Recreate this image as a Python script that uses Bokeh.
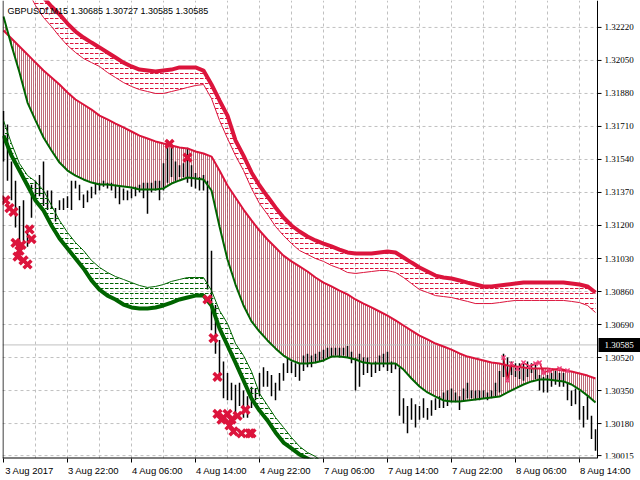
from bokeh.plotting import figure
from bokeh.models import Range1d, FixedTicker, Span, Label
from bokeh.embed import file_html
from bokeh.resources import INLINE

# ---------------- data (GBPUSDf, M15; x = bar number) ----------------
title_text = "GBPUSDf,M15  1.30685 1.30727 1.30585 1.30585"
current_price = 1.30585

time_labels = ["3 Aug 2017", "3 Aug 22:00", "4 Aug 06:00", "4 Aug 14:00", "4 Aug 22:00",
               "7 Aug 06:00", "7 Aug 14:00", "7 Aug 22:00", "8 Aug 06:00", "8 Aug 14:00"]
bars_per_label = 32
bars_per_grid = 16
price_ticks = [1.30015, 1.30180, 1.30350, 1.30520, 1.30690, 1.30860, 1.31030, 1.31200,
               1.31370, 1.31540, 1.31710, 1.31880, 1.32050, 1.32220]

# price bars, every second bar
high = [1.3179,1.3172,1.3153,1.3143,1.3130,1.3133,1.3120,1.3141,1.3143,1.3146,
        1.3153,1.3138,1.3138,1.3129,1.3133,1.3134,1.3135,1.3143,1.3143,1.3141,
        1.3136,1.3138,1.3140,1.3142,1.3142,1.3143,1.3142,1.3142,1.3141,1.3140,
        1.3139,1.3138,1.3139,1.3140,1.3141,1.3142,1.3142,1.3142,1.3143,1.3143,
        1.3152,1.3164,1.3162,1.3153,1.3151,1.3152,1.3160,1.3151,1.3147,1.3145,
        1.3146,1.3143,1.3107,1.3079,1.3061,1.3050,1.3044,1.3039,1.3038,1.3039,
        1.3035,1.3032,1.3037,1.3036,1.3044,1.3047,1.3045,1.3043,1.3039,1.3044,
        1.3049,1.3052,1.3050,1.3049,1.3049,1.3053,1.3054,1.3053,1.3054,1.3055,
        1.3056,1.3057,1.3057,1.3057,1.3057,1.3057,1.3058,1.3055,1.3052,1.3054,
        1.3052,1.3052,1.3049,1.3050,1.3053,1.3054,1.3055,1.3050,1.3049,1.3047,
        1.3031,1.3027,1.3031,1.3028,1.3027,1.3031,1.3026,1.3030,1.3031,1.3032,
        1.3034,1.3035,1.3036,1.3034,1.3032,1.3036,1.3039,1.3035,1.3035,1.3035,
        1.3035,1.3034,1.3035,1.3039,1.3045,1.3054,1.3052,1.3050,1.3049,1.3049,
        1.3049,1.3050,1.3049,1.3049,1.3043,1.3042,1.3043,1.3044,1.3045,1.3044,
        1.3044,1.3039,1.3035,1.3036,1.3035,1.3027,1.3032,1.3022,1.3015]
low = [1.3153,1.3143,1.3133,1.3119,1.3110,1.3112,1.3109,1.3124,1.3133,1.3135,
       1.3130,1.3128,1.3129,1.3122,1.3128,1.3128,1.3129,1.3128,1.3139,1.3133,
       1.3129,1.3132,1.3134,1.3136,1.3138,1.3140,1.3139,1.3138,1.3134,1.3131,
       1.3133,1.3133,1.3134,1.3135,1.3137,1.3134,1.3126,1.3137,1.3138,1.3133,
       1.3138,1.3142,1.3145,1.3143,1.3145,1.3145,1.3142,1.3140,1.3139,1.3138,
       1.3138,1.3087,1.3066,1.3054,1.3040,1.3031,1.3030,1.3030,1.3023,1.3027,
       1.3021,1.3021,1.3026,1.3030,1.3032,1.3037,1.3037,1.3032,1.3030,1.3035,
       1.3040,1.3044,1.3044,1.3042,1.3040,1.3045,1.3047,1.3047,1.3049,1.3050,
       1.3050,1.3052,1.3052,1.3053,1.3052,1.3053,1.3052,1.3049,1.3035,1.3037,
       1.3043,1.3044,1.3042,1.3044,1.3045,1.3047,1.3045,1.3044,1.3046,1.3022,
       1.3018,1.3013,1.3020,1.3016,1.3020,1.3021,1.3020,1.3022,1.3025,1.3026,
       1.3026,1.3027,1.3029,1.3029,1.3025,1.3030,1.3031,1.3031,1.3030,1.3030,
       1.3031,1.3030,1.3031,1.3032,1.3034,1.3042,1.3042,1.3043,1.3042,1.3041,
       1.3040,1.3042,1.3044,1.3041,1.3035,1.3034,1.3034,1.3037,1.3038,1.3037,
       1.3037,1.3030,1.3027,1.3028,1.3020,1.3016,1.3020,1.3010,1.3004]

# moving averages, every fourth bar
red_ma = [1.32204,1.32163,1.32122,1.32081,1.32039,1.31998,1.31962,1.31926,1.31885,1.31849,
          1.31823,1.31797,1.31766,1.31746,1.31725,1.31705,1.31684,1.31663,1.31648,1.31633,
          1.31622,1.31612,1.31602,1.31597,1.31581,1.31571,1.31555,1.31483,1.31406,1.31344,
          1.31282,1.31226,1.31174,1.31128,1.31087,1.31045,1.31015,1.30989,1.30963,1.30932,
          1.30906,1.30886,1.30865,1.30845,1.30819,1.30798,1.30778,1.30757,1.30736,1.30711,
          1.30685,1.30659,1.30633,1.30613,1.30592,1.30577,1.30561,1.30541,1.30525,1.30515,
          1.30505,1.30494,1.30489,1.30479,1.30474,1.30469,1.30463,1.30463,1.30463,1.30458,
          1.30453,1.30448,1.30438,1.30427,1.30412]
green_ma = [1.32276,1.32127,1.31988,1.31833,1.31741,1.31653,1.31586,1.31524,1.31483,1.31457,
            1.31437,1.31421,1.31411,1.31411,1.31406,1.31401,1.31396,1.31385,1.31385,1.31385,
            1.31391,1.31416,1.31432,1.31447,1.31442,1.31437,1.31380,1.31195,1.31025,1.30896,
            1.30788,1.30706,1.30654,1.30608,1.30567,1.30530,1.30505,1.30489,1.30489,1.30494,
            1.30505,1.30525,1.30525,1.30520,1.30510,1.30494,1.30489,1.30489,1.30489,1.30489,
            1.30458,1.30412,1.30371,1.30340,1.30319,1.30299,1.30294,1.30294,1.30299,1.30304,
            1.30309,1.30314,1.30319,1.30340,1.30361,1.30381,1.30397,1.30407,1.30407,1.30402,
            1.30397,1.30381,1.30355,1.30324,1.30288]

# upper (red) band, every fourth bar
upper_top = [1.32771,1.32668,1.32590,1.32513,1.32436,1.32374,1.32328,1.32287,1.32240,1.32199,
             1.32168,1.32142,1.32117,1.32091,1.32065,1.32039,1.32019,1.32003,1.31998,1.31993,
             1.31998,1.32003,1.32014,1.32014,1.32014,1.31998,1.31926,1.31844,1.31766,1.31638,
             1.31560,1.31473,1.31406,1.31349,1.31293,1.31241,1.31200,1.31169,1.31143,1.31123,
             1.31107,1.31092,1.31076,1.31061,1.31056,1.31056,1.31056,1.31061,1.31066,1.31061,
             1.31035,1.31009,1.30984,1.30963,1.30942,1.30932,1.30927,1.30917,1.30906,1.30896,
             1.30886,1.30886,1.30891,1.30896,1.30901,1.30906,1.30906,1.30906,1.30906,1.30906,
             1.30906,1.30901,1.30896,1.30886,1.30855]
upper_low = [1.32668,1.32565,1.32487,1.32410,1.32333,1.32271,1.32225,1.32173,1.32127,1.32091,
             1.32060,1.32039,1.32019,1.31988,1.31962,1.31936,1.31916,1.31900,1.31890,1.31880,
             1.31880,1.31890,1.31900,1.31911,1.31921,1.31926,1.31854,1.31741,1.31648,1.31560,
             1.31483,1.31391,1.31313,1.31257,1.31195,1.31148,1.31107,1.31071,1.31051,1.31030,
             1.31015,1.30994,1.30979,1.30958,1.30953,1.30958,1.30963,1.30968,1.30968,1.30958,
             1.30932,1.30901,1.30870,1.30855,1.30839,1.30834,1.30829,1.30819,1.30809,1.30798,
             1.30798,1.30798,1.30803,1.30809,1.30814,1.30814,1.30814,1.30814,1.30814,1.30814,
             1.30814,1.30809,1.30803,1.30788,1.30752]

# lower (green) band, every fourth bar
lower_low = [1.31663,1.31560,1.31483,1.31406,1.31329,1.31277,1.31200,1.31133,1.31082,1.31030,
             1.30979,1.30917,1.30870,1.30839,1.30819,1.30793,1.30778,1.30773,1.30773,1.30778,
             1.30788,1.30803,1.30819,1.30829,1.30839,1.30839,1.30788,1.30670,1.30582,1.30494,
             1.30402,1.30309,1.30247,1.30196,1.30134,1.30082,1.30052,1.30021,1.30000,1.29974,
             1.29949,1.29923,1.29897]
lower_top = [1.31741,1.31622,1.31519,1.31457,1.31427,1.31380,1.31303,1.31226,1.31164,1.31112,
             1.31071,1.31020,1.30984,1.30958,1.30937,1.30922,1.30906,1.30891,1.30881,1.30886,
             1.30896,1.30912,1.30922,1.30932,1.30932,1.30932,1.30865,1.30762,1.30695,1.30592,
             1.30530,1.30448,1.30335,1.30273,1.30211,1.30160,1.30108,1.30062,1.30031,1.30010,
             1.29979,1.29949,1.29912]

# signal crosses
cross_bar = [1, 3, 5, 6, 8, 10, 7, 12, 13, 14, 9,
             83, 92, 102, 105, 107,
             107, 109, 110, 112, 114, 117, 121, 115, 119, 123, 113, 124]
cross_price = [1.3133, 1.3129, 1.3127, 1.3111, 1.3107, 1.3102, 1.3104, 1.3100, 1.3118, 1.3113, 1.3110,
               1.3162, 1.3155, 1.3082, 1.3062, 1.3042,
               1.3023, 1.3020, 1.3021, 1.3023, 1.3020, 1.3022, 1.3025, 1.3014, 1.3013, 1.3013, 1.3017, 1.3013]
signal_bar = [250, 252, 254, 257, 260, 263, 266, 268, 270, 273, 278, 282]
signal_price = [1.30520, 1.30402, 1.30489, 1.30463, 1.30494, 1.30474, 1.30489, 1.30494,
                1.30443, 1.30453, 1.30463, 1.30453]

bar_idx = list(range(0, 2 * len(high), 2))
ma_idx = list(range(0, 4 * len(red_ma), 4))
band_idx = list(range(0, 4 * len(lower_low), 4))
label_pos = [bars_per_label * k for k in range(len(time_labels))]

# ---------------- layout constants ----------------
CRIMSON = "#DC143C"
DGREEN = "#006400"
GRID = "#C0C0C0"
FONT = "Liberation Sans"
X0 = -0.5            # left edge of the chart area (bars)
X_AXIS = 297         # bar at which the price scale starts
X_END = 318.5        # right edge of the canvas (2 px per bar)
Y0, Y1 = 1.30000, 1.323587

# MT4 writes each time label to the right of its tick: centre the text half a label further on
label_shift = 13
label_center = [pos + label_shift for pos in label_pos]

p = figure(width=640, height=480, output_backend="svg", toolbar_location=None,
           x_range=Range1d(X0, X_END), y_range=Range1d(Y0, Y1),
           y_axis_location=None, min_border_left=2, min_border_top=0,
           min_border_right=0, min_border_bottom=22)
p.background_fill_color = "white"
p.border_fill_color = "white"
p.outline_line_color = None

# vertical grid (full height of the chart area)
p.xgrid.ticker = FixedTicker(ticks=list(range(bars_per_grid, X_AXIS, bars_per_grid)))
p.xgrid.grid_line_color = GRID
p.xgrid.grid_line_dash = "3 3"
p.ygrid.visible = False
# horizontal grid, stopping at the price scale
p.segment(x0=[X0] * len(price_ticks), y0=price_ticks, x1=[X_AXIS] * len(price_ticks), y1=price_ticks,
          line_color=GRID, line_dash="3 3", line_width=1)

# time axis
p.xaxis.ticker = FixedTicker(ticks=label_center, minor_ticks=label_pos)
p.xaxis.major_label_overrides = {c: lab for c, lab in zip(label_center, time_labels)}
p.xaxis.axis_line_color = None
p.xaxis.major_tick_line_color = None
p.xaxis.major_tick_in = 0
p.xaxis.major_tick_out = 4
p.xaxis.minor_tick_line_color = "black"
p.xaxis.minor_tick_in = 0
p.xaxis.minor_tick_out = 4
p.xaxis.major_label_standoff = 2
p.xaxis.axis_label_standoff = 0
p.xaxis.major_label_text_font = FONT
p.xaxis.major_label_text_font_size = "9.5px"
p.xaxis.major_label_text_color = "black"

# histogram between the two moving averages
p.varea(x=ma_idx, y1=green_ma, y2=red_ma, fill_alpha=0,
        hatch_pattern="vertical_line", hatch_color="#A83A4C", hatch_scale=2, hatch_weight=1.5)

# current price line
p.segment(x0=[X0], y0=[current_price], x1=[X_AXIS], y1=[current_price], line_color=GRID, line_width=1)

# price bars
p.segment(x0=bar_idx, y0=low, x1=bar_idx, y1=high, line_color="black", line_width=1.5)

# moving average lines
p.line(ma_idx, red_ma, line_color=CRIMSON, line_width=2)
p.line(ma_idx, green_ma, line_color=DGREEN, line_width=2)

# upper band
p.varea(x=ma_idx, y1=upper_low, y2=upper_top, fill_alpha=0,
        hatch_pattern="horizontal_dash", hatch_color=CRIMSON, hatch_scale=5, hatch_weight=1)
p.line(ma_idx, upper_low, line_color=CRIMSON, line_width=1)
p.line(ma_idx, upper_top, line_color=CRIMSON, line_width=4)

# lower band
p.varea(x=band_idx, y1=lower_low, y2=lower_top, fill_alpha=0,
        hatch_pattern="horizontal_dash", hatch_color=DGREEN, hatch_scale=5, hatch_weight=1)
p.line(band_idx, lower_top, line_color=DGREEN, line_width=1)
p.line(band_idx, lower_low, line_color=DGREEN, line_width=4)

# signals
p.scatter(cross_bar, cross_price, marker="x", size=11, line_color=CRIMSON, line_width=3.5)
p.line(signal_bar, signal_price, line_color=CRIMSON, line_width=1.5)
p.scatter(signal_bar, signal_price, marker="x", size=6, line_color="#F0407A", line_width=1.5)

# chart frame: white price-scale panel, left border, bottom border, price scale line
p.quad(left=[X_AXIS], right=[X_END], bottom=[Y0], top=[Y1], fill_color="white", line_color=None)
p.add_layout(Span(location=X0 + 0.25, dimension="height", line_color="black", line_width=1))
p.add_layout(Span(location=X_AXIS, dimension="height", line_color="black", line_width=1))
p.segment(x0=[X0], y0=[Y0], x1=[X_AXIS], y1=[Y0], line_color="black", line_width=2)

# price scale: ticks and labels
p.segment(x0=[X_AXIS] * len(price_ticks), y0=price_ticks, x1=[X_AXIS + 2] * len(price_ticks),
          y1=price_ticks, line_color="black", line_width=1)
p.text(x=[X_AXIS] * len(price_ticks), y=price_ticks, text=["%.5f" % v for v in price_ticks],
       x_offset=7, text_baseline="middle", text_align="left", text_color="black",
       text_font=FONT, text_font_size="9px")

# current price tag
p.rect(x=[(X_AXIS + 0.5 + X_END) / 2], y=[current_price], width=X_END - X_AXIS - 0.5, height=14,
       height_units="screen", fill_color="black", line_color=None)
p.text(x=[X_AXIS], y=[current_price], text=["%.5f" % current_price], x_offset=7,
       text_baseline="middle", text_align="left", text_color="white",
       text_font=FONT, text_font_size="9px")

# title
p.add_layout(Label(x=X0, y=Y1, x_offset=5, y_offset=-5, text=title_text,
                   text_baseline="top", text_align="left", text_color="black",
                   text_font=FONT, text_font_size="9px"))

open("out.html", "w").write(file_html(p, INLINE))
